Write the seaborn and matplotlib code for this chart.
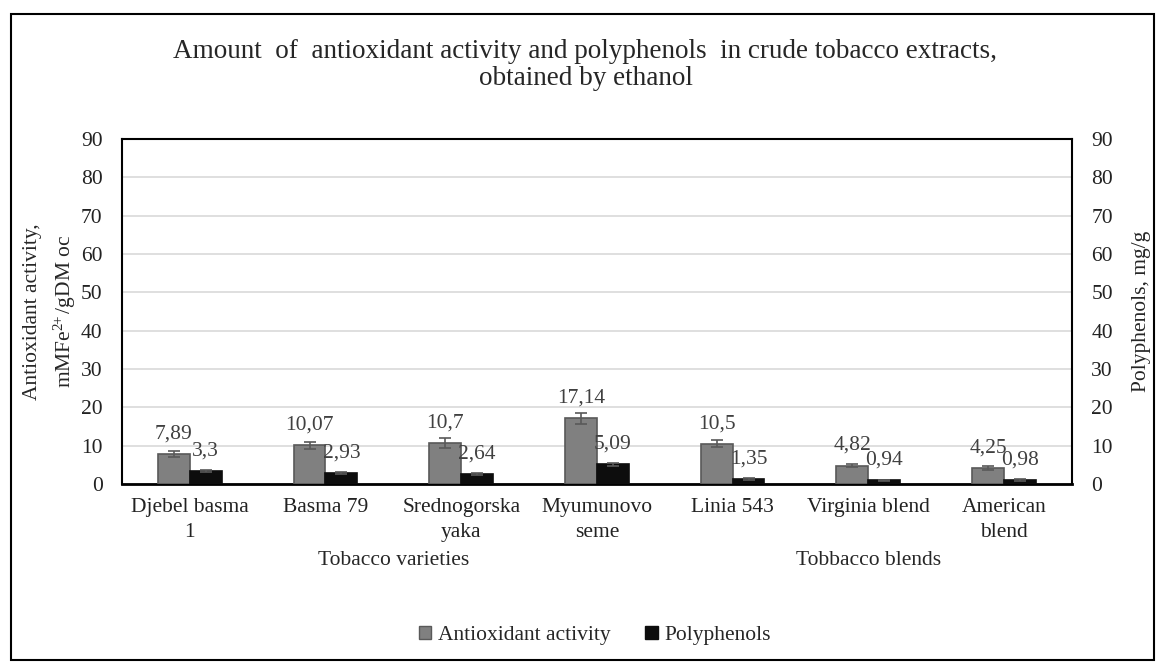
import numpy as np
import pandas as pd
import seaborn as sns
import matplotlib.pyplot as plt
from matplotlib.patches import Rectangle, Patch

categories = ["Djebel basma\n1", "Basma 79", "Srednogorska\nyaka", "Myumunovo\nseme",
              "Linia 543", "Virginia blend", "American\nblend"]
antioxidant = [7.89, 10.07, 10.7, 17.14, 10.5, 4.82, 4.25]
antioxidant_err = [0.75, 1.0, 1.2, 1.4, 0.9, 0.5, 0.5]
polyphenols = [3.3, 2.93, 2.64, 5.09, 1.35, 0.94, 0.98]
polyphenols_err = [0.3, 0.3, 0.3, 0.3, 0.3, 0.2, 0.2]
groups = ["Tobacco varieties", "Tobbacco blends"]
group_sizes = [4, 3]

sns.set_style("white")
plt.rcParams['font.family'] = ['Liberation Serif', 'DejaVu Serif']
plt.rcParams['mathtext.fontset'] = 'custom'
plt.rcParams['mathtext.rm'] = 'Liberation Serif'
plt.rcParams['mathtext.it'] = 'Liberation Serif:italic'

df = pd.DataFrame({
    "cat": categories * 2,
    "value": antioxidant + polyphenols,
    "err": antioxidant_err + polyphenols_err,
    "series": ["Antioxidant activity"] * 7 + ["Polyphenols"] * 7,
})

fig = plt.figure(figsize=(11.57, 6.62), dpi=100)
ax = fig.add_axes([0.1054, 0.2689, 0.821, 0.5211])

cols = {"Antioxidant activity": "#808080", "Polyphenols": "#0d0d0d"}
sns.barplot(data=df, x="cat", y="value", hue="series", palette=cols,
            errorbar=None, width=0.47, ax=ax, legend=False, zorder=3)

# edges, error bars and labels
n = len(categories)
for i, p in enumerate(ax.patches[:2 * n]):
    s = i // n
    p.set_edgecolor("#595959" if s == 0 else "#0d0d0d")
    p.set_linewidth(1.2)
    xc = p.get_x() + p.get_width() / 2
    h = p.get_height()
    e = df["err"].iloc[i]
    ax.errorbar(xc, h, yerr=e, color="#595959", capsize=4, elinewidth=1.2,
                capthick=1.2, zorder=4)
    ax.annotate(f"{df['value'].iloc[i]:g}".replace(".", ","), (xc, h),
                xytext=(0, 20), textcoords="offset pixels",
                ha="center", va="center", fontsize=15.5, color="#404040", zorder=5)

ax.set_ylim(0, 90)
ax.set_xlim(-0.5, n - 0.5)
ax.set_yticks(range(0, 91, 10))
ax.yaxis.grid(True, color="#d9d9d9", linewidth=1.2, zorder=0)
ax.set_axisbelow(True)
for sp in ax.spines.values():
    sp.set_visible(True)
    sp.set_color("black")
    sp.set_linewidth(1.5)
ax.spines["bottom"].set_linewidth(2)
ax.tick_params(axis="both", length=0, labelsize=15.5, colors="#222222")
ax.tick_params(axis="y", pad=14)
ax.tick_params(axis="x", pad=10)
for t in ax.get_xticklabels():
    t.set_linespacing(1.45)
ax.set_xlabel("")
ax.set_ylabel("Antioxidant activity,\nmMFe$^{2\\!\\!+}$/gDM oc", fontsize=15.5, labelpad=2,
              linespacing=1.5)

ax2 = ax.twinx()
ax2.set_ylim(0, 90)
ax2.set_yticks(range(0, 91, 10))
ax2.tick_params(axis="y", length=0, labelsize=15.5, pad=14, colors="#222222")
for sp in ax2.spines.values():
    sp.set_visible(False)
ax2.set_ylabel("Polyphenols, mg/g", fontsize=15.5, labelpad=14)

# group labels
start = 0
for g, sz in zip(groups, group_sizes):
    xc = start + sz / 2 - 0.5
    ax.text(xc, -0.222, g, transform=ax.get_xaxis_transform(), ha="center",
            va="center", fontsize=15.5)
    start += sz

fig.text(0.506, 0.902, "Amount  of  antioxidant activity and polyphenols  in crude tobacco extracts,\nobtained by ethanol",
         ha="center", va="center", fontsize=19.5, linespacing=1.12)

handles = [Patch(facecolor="#808080", edgecolor="#595959"),
           Patch(facecolor="#0d0d0d", edgecolor="#0d0d0d")]
fig.legend(handles, ["Antioxidant activity", "Polyphenols"], loc="center",
           bbox_to_anchor=(0.514, 0.04), ncol=2, frameon=False, fontsize=15.5,
           handlelength=0.6, handleheight=0.6, handletextpad=0.3, columnspacing=1.6)

fig.patches.append(Rectangle((11 / 1157, 2 / 662), 1143 / 1157, 646 / 662,
                             transform=fig.transFigure, fill=False,
                             edgecolor="black", linewidth=1.5))

fig.savefig("out.png", dpi=100)
